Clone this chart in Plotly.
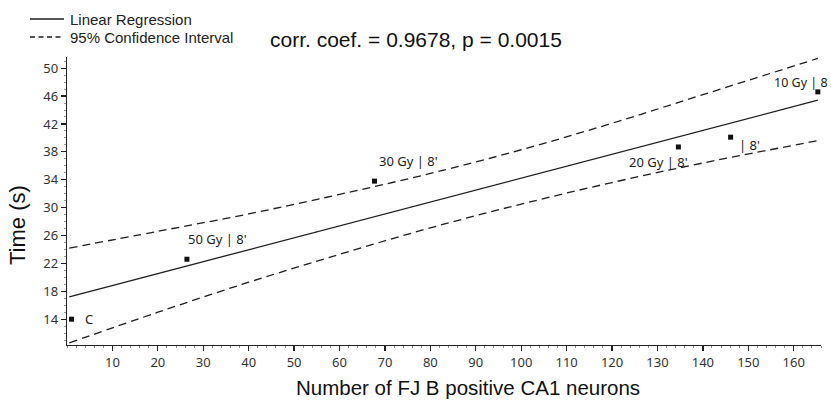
import plotly.graph_objects as go

# ---- data ----
pt_x = [1.0, 26.4, 67.7, 134.6, 146.1, 165.3]
pt_y = [14.0, 22.6, 33.8, 38.7, 40.1, 46.6]
pt_labels = ["C", "50 Gy | 8'", "30 Gy | 8'", "20 Gy | 8'", "| 8'", "10 Gy | 8"]

reg_x = [0.5, 165.3]
reg_y = [17.2, 45.4]

ci_x = [0.5, 20, 40, 60, 80, 100, 120, 140, 165.3]
ci_upper = [24.2, 26.6, 29.1, 31.9, 34.9, 38.3, 42.1, 46.2, 51.4]
ci_lower = [10.6, 15.0, 19.3, 23.3, 27.1, 30.5, 33.6, 36.4, 39.6]

x_ticks = list(range(10, 170, 10))
y_ticks = list(range(14, 54, 4))

title_text = "corr. coef. = 0.9678, p = 0.0015"
legend_names = ["Linear Regression", "95% Confidence Interval"]

# ---- layout constants (pixels) ----
W, H = 831, 407
ML, MR, MT, MB = 67, 10, 57, 62
PW, PH = W - ML - MR, H - MT - MB


def px(xp):
    return (xp - ML) / PW


def py(yp):
    return 1 - (yp - MT) / PH


# label offsets (pixels) relative to each point
lab_dx = [11, -1, 2, -51, 6, -46]
lab_dy = [0, 20, 20, -15, -8, 9]
lab_size = [13, 13, 13, 13, 13, 12.5]

LINE = "#1e1e1e"
DASH = "8px,5px"
LABEL_FONT = "Noto Sans, Open Sans"
TITLE_FONT = "Liberation Sans, Arial"

fig = go.Figure()
fig.add_trace(go.Scatter(x=reg_x, y=reg_y, mode="lines", showlegend=False,
                         line=dict(color=LINE, width=1.3)))
fig.add_trace(go.Scatter(x=ci_x, y=ci_upper, mode="lines", showlegend=False,
                         line=dict(color=LINE, width=1.3, dash=DASH, shape="spline")))
fig.add_trace(go.Scatter(x=ci_x, y=ci_lower, mode="lines", showlegend=False,
                         line=dict(color=LINE, width=1.3, dash=DASH, shape="spline")))
fig.add_trace(go.Scatter(x=pt_x, y=pt_y, mode="markers", showlegend=False,
                         marker=dict(symbol="square", size=5, color="#111")))

for x, y, t, dx, dy, s in zip(pt_x, pt_y, pt_labels, lab_dx, lab_dy, lab_size):
    fig.add_annotation(x=x, y=y, text=t, showarrow=False, xanchor="left", yanchor="middle",
                       xshift=dx, yshift=dy,
                       font=dict(family=LABEL_FONT, size=s, color="#222"))

# custom legend (top-left, outside plot)
leg_y = [19, 37]
leg_dash = ["solid", "5px,3.5px"]
for name, yy, d in zip(legend_names, leg_y, leg_dash):
    fig.add_shape(type="line", xref="paper", yref="paper",
                  x0=px(30), x1=px(64), y0=py(yy), y1=py(yy),
                  line=dict(color=LINE, width=1.3, dash=d))
    fig.add_annotation(xref="paper", yref="paper", x=px(68), y=py(yy + 1),
                       text=name, showarrow=False, xanchor="left", yanchor="middle",
                       font=dict(family=TITLE_FONT, size=15, color="#222"))

fig.add_annotation(xref="paper", yref="paper", x=px(268), y=py(39),
                   text=title_text, showarrow=False, xanchor="left", yanchor="middle",
                   font=dict(family=TITLE_FONT, size=21, color="#111"))
fig.add_annotation(xref="paper", yref="paper", x=px(468.5), y=py(387),
                   text="Number of FJ B positive CA1 neurons", showarrow=False,
                   xanchor="center", yanchor="middle",
                   font=dict(family=TITLE_FONT, size=20.5, color="#111"))
fig.add_annotation(xref="paper", yref="paper", x=px(17), y=py(225),
                   text="Time (s)", showarrow=False, textangle=-90,
                   xanchor="center", yanchor="middle",
                   font=dict(family=TITLE_FONT, size=22, color="#111"))

axis_common = dict(showgrid=False, zeroline=False, showline=True, linecolor="#222",
                   linewidth=1.3, ticks="outside", ticklen=5, tickwidth=1.3, tickcolor="#222",
                   tickfont=dict(family=LABEL_FONT, size=13, color="#333"))

fig.update_xaxes(range=[0, 166], tickvals=x_ticks, ticktext=[str(v) for v in x_ticks],
                 minor=dict(ticks="outside", ticklen=2, dtick=2, tickcolor="#888", tickwidth=1),
                 **axis_common)
fig.update_yaxes(range=[10.3, 51.6], tickvals=y_ticks, ticktext=[str(v) for v in y_ticks],
                 minor=dict(ticks="outside", ticklen=2, dtick=1, tickcolor="#999", tickwidth=1),
                 **axis_common)

fig.update_layout(
    width=W, height=H,
    margin=dict(l=ML, r=MR, t=MT, b=MB, autoexpand=False),
    plot_bgcolor="white", paper_bgcolor="white",
    showlegend=False,
)

fig.write_html("out.html", config={"displayModeBar": False, "staticPlot": True},
               post_script="document.body.style.margin='0';document.body.style.overflow='hidden';")
